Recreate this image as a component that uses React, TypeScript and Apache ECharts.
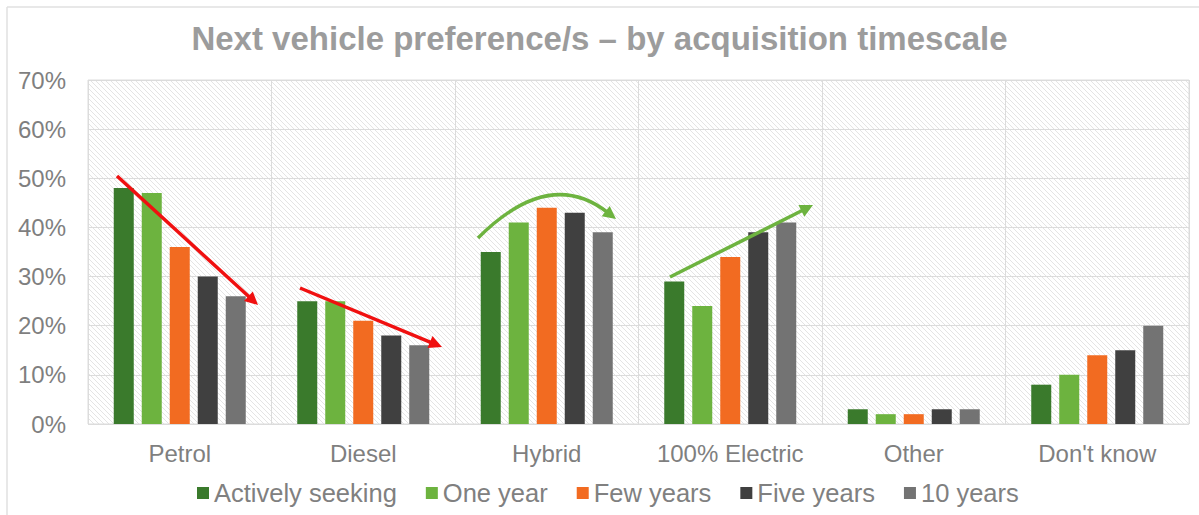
import React, { useEffect, useRef } from "react";
import * as echarts from "echarts";

const categories = ["Petrol", "Diesel", "Hybrid", "100% Electric", "Other", "Don't know"];
const seriesNames = ["Actively seeking", "One year", "Few years", "Five years", "10 years"];
const activelySeeking = [48, 25, 35, 29, 3, 8];
const oneYear = [47, 25, 41, 24, 2, 10];
const fewYears = [36, 21, 44, 34, 2, 14];
const fiveYears = [30, 18, 43, 39, 3, 15];
const tenYears = [26, 16, 39, 41, 3, 20];
const seriesValues = [activelySeeking, oneYear, fewYears, fiveYears, tenYears];
const colors = ["#3A7A2C", "#6DB33F", "#F26B21", "#404040", "#737373"];
const yTicks = [0, 10, 20, 30, 40, 50, 60, 70];

const FONT = "'Liberation Sans', Arial, sans-serif";

function makeHatch(): string {
  const c = document.createElement("canvas");
  c.width = 5;
  c.height = 5;
  const ctx = c.getContext("2d")!;
  ctx.fillStyle = "#ffffff";
  ctx.fillRect(0, 0, 5, 5);
  ctx.strokeStyle = "#e4e4e4";
  ctx.lineWidth = 1;
  ctx.beginPath();
  ctx.moveTo(-1, -1);
  ctx.lineTo(6, 6);
  ctx.stroke();
  return c.toDataURL();
}

function head(tx: number, ty: number, ux: number, uy: number, color: string) {
  const hl = 13;
  const hw = 6.5;
  const bx = tx - ux * hl;
  const by = ty - uy * hl;
  return {
    type: "polygon",
    shape: {
      points: [
        [tx, ty],
        [bx - uy * hw, by + ux * hw],
        [bx + uy * hw, by - ux * hw],
      ],
    },
    style: { fill: color },
    z: 100,
  };
}

function arrow(sx: number, sy: number, tx: number, ty: number, color: string) {
  const dx = tx - sx;
  const dy = ty - sy;
  const len = Math.sqrt(dx * dx + dy * dy);
  const ux = dx / len;
  const uy = dy / len;
  return [
    {
      type: "line",
      shape: { x1: sx, y1: sy, x2: tx - ux * 11, y2: ty - uy * 11 },
      style: { stroke: color, lineWidth: 3.5 },
      z: 100,
    },
    head(tx, ty, ux, uy, color),
  ];
}

function arcArrow(sx: number, sy: number, cx: number, cy: number, tx: number, ty: number, color: string) {
  const dx = tx - cx;
  const dy = ty - cy;
  const len = Math.sqrt(dx * dx + dy * dy);
  const ux = dx / len;
  const uy = dy / len;
  return [
    {
      type: "bezierCurve",
      shape: { x1: sx, y1: sy, cpx1: cx, cpy1: cy, x2: tx - ux * 11, y2: ty - uy * 11 },
      style: { stroke: color, lineWidth: 3.5, fill: "none" },
      z: 100,
    },
    head(tx, ty, ux, uy, color),
  ];
}

export default function App() {
  const ref = useRef<HTMLDivElement>(null);
  useEffect(() => {
    if (!ref.current) return;
    const chart = echarts.init(ref.current, undefined, { renderer: "svg" });
    const hatch = makeHatch();
    const red = "#F01010";
    const green = "#6DB33F";
    chart.setOption({
      animation: false,
      backgroundColor: "#ffffff",
      title: {
        text: "Next vehicle preference/s \u2013 by acquisition timescale",
        left: "center",
        top: 17,
        textStyle: { fontFamily: FONT, fontSize: 33, fontWeight: "bold", color: "#9c9c9c" },
      },
      legend: {
        data: seriesNames,
        top: 480,
        left: 197,
        padding: 0,
        itemWidth: 12,
        itemHeight: 12,
        itemGap: 29,
        icon: "rect",
        textStyle: { fontFamily: FONT, fontSize: 25.5, color: "#808080" },
      },
      grid: {
        left: 88,
        right: 10,
        top: 80,
        bottom: 91,
        show: true,
        backgroundColor: { image: hatch, repeat: "repeat", imageWidth: 5, imageHeight: 5 } as any,
        borderColor: "#dcdcdc",
        borderWidth: 1,
      },
      xAxis: {
        type: "category",
        data: categories,
        axisLine: { show: false },
        axisTick: { show: false },
        splitLine: { show: true, interval: 0, lineStyle: { color: "#dcdcdc", width: 1 } },
        axisLabel: { fontFamily: FONT, fontSize: 24, color: "#7f7f7f", margin: 17, interval: 0 },
      },
      yAxis: {
        type: "value",
        min: yTicks[0],
        max: yTicks[yTicks.length - 1],
        interval: 10,
        axisLine: { show: false },
        axisTick: { show: false },
        splitLine: { lineStyle: { color: "#dcdcdc", width: 1 } },
        axisLabel: { fontFamily: FONT, fontSize: 24, color: "#7f7f7f", formatter: "{value}%", margin: 22 },
      },
      series: seriesNames.map((name, i) => ({
        name,
        type: "bar",
        data: seriesValues[i],
        barWidth: 20,
        barGap: "40%",
        itemStyle: { color: colors[i] },
      })),
      graphic: [
        {
          type: "line",
          shape: { x1: 7, y1: 7, x2: 1199, y2: 7 },
          style: { stroke: "#e0e0e0", lineWidth: 1.5 },
        },
        {
          type: "line",
          shape: { x1: 7, y1: 7, x2: 7, y2: 515 },
          style: { stroke: "#e0e0e0", lineWidth: 1.5 },
        },
        ...arrow(117, 176, 258, 305, red),
        ...arrow(300, 288, 442, 347, red),
        ...arcArrow(478, 238, 549, 167, 616, 219, green),
        ...arrow(670, 277, 813, 205, green),
      ],
    });
    return () => chart.dispose();
  }, []);
  return <div ref={ref} style={{ width: 1199, height: 515, position: "absolute", left: 0, top: 0 }} />;
}
